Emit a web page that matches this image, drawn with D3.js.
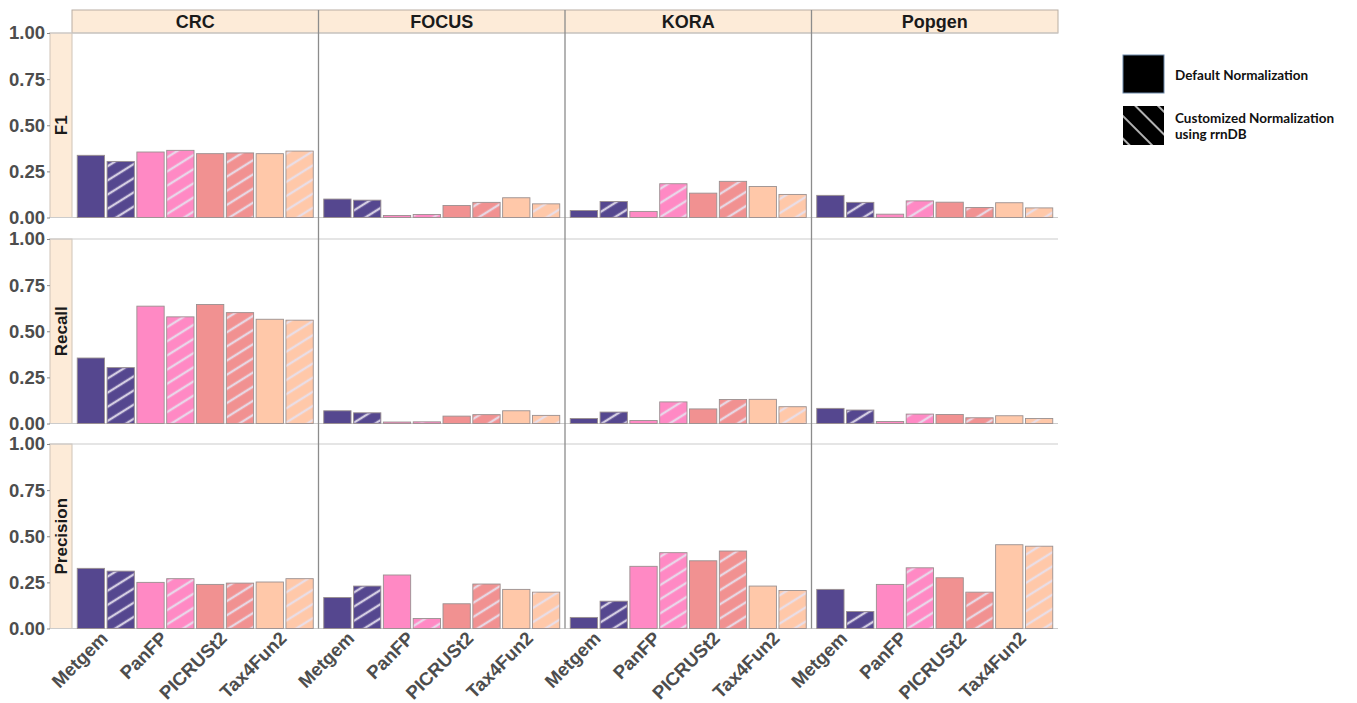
<!DOCTYPE html>
<html>
<head>
<meta charset="utf-8">
<script src="https://cdn.jsdelivr.net/npm/d3@7"></script>
<style>
  html, body { margin: 0; padding: 0; background: #fff; }
  svg { display: block; }
</style>
</head>
<body>
<svg id="chart" width="1357" height="703"></svg>
<script>
// ---------------- DATA ----------------
const datasets = ["CRC", "FOCUS", "KORA", "Popgen"];
const methods = ["Metgem", "PanFP", "PICRUSt2", "Tax4Fun2"];
const metrics = ["F1", "Recall", "Precision"];
const normalizations = ["Default", "Customized"];
const yTicks = [0, 0.25, 0.5, 0.75, 1];

// values[dataset][method]
const f1Default = [
  [0.337, 0.355, 0.346, 0.346],
  [0.100, 0.011, 0.065, 0.107],
  [0.038, 0.033, 0.132, 0.168],
  [0.120, 0.018, 0.083, 0.080]
];
const f1Customized = [
  [0.304, 0.364, 0.350, 0.360],
  [0.094, 0.016, 0.082, 0.074],
  [0.087, 0.183, 0.196, 0.125],
  [0.082, 0.090, 0.054, 0.052]
];
const recallDefault = [
  [0.355, 0.636, 0.645, 0.565],
  [0.069, 0.008, 0.040, 0.069],
  [0.027, 0.016, 0.079, 0.131],
  [0.082, 0.011, 0.049, 0.042]
];
const recallCustomized = [
  [0.303, 0.578, 0.601, 0.560],
  [0.058, 0.009, 0.048, 0.044],
  [0.062, 0.117, 0.130, 0.091],
  [0.073, 0.051, 0.031, 0.027]
];
const precisionDefault = [
  [0.326, 0.250, 0.239, 0.252],
  [0.168, 0.290, 0.134, 0.212],
  [0.060, 0.337, 0.367, 0.230],
  [0.212, 0.239, 0.275, 0.454]
];
const precisionCustomized = [
  [0.311, 0.270, 0.246, 0.270],
  [0.230, 0.054, 0.241, 0.197],
  [0.148, 0.411, 0.420, 0.206],
  [0.092, 0.329, 0.197, 0.446]
];
const legendLabels = ["Default Normalization", ["Customized Normalization", "using rrnDB"]];

const metricData = {
  F1: [f1Default, f1Customized],
  Recall: [recallDefault, recallCustomized],
  Precision: [precisionDefault, precisionCustomized]
};

// ---------------- STYLE / LAYOUT ----------------
const methodColors = d3.scaleOrdinal(methods, ["#55478f", "#ff89c4", "#f19191", "#ffc8a9"]);
const stripFill = "#fdebd8";
const font = "'Liberation Sans', Arial, sans-serif";

const plotLeft = 72, plotRight = 1058;
const stripTop = 10, stripBottom = 33;
const panelTops = [33, 239, 444];
const panelH = 184.5;
const leftStripX0 = 50;

const svg = d3.select("#chart");
const defs = svg.append("defs");

// hatch pattern for bars
const hatch = defs.append("pattern")
  .attr("id", "hatch")
  .attr("patternUnits", "userSpaceOnUse")
  .attr("width", 12).attr("height", 12)
  .attr("patternTransform", "rotate(-32)");
hatch.append("line")
  .attr("x1", 0).attr("y1", 6).attr("x2", 12).attr("y2", 6)
  .attr("stroke", "#e6e0ee").attr("stroke-opacity", 0.88).attr("stroke-width", 2.4);

// legend hatch
const lhatch = defs.append("pattern")
  .attr("id", "lhatch")
  .attr("patternUnits", "userSpaceOnUse")
  .attr("width", 16).attr("height", 16)
  .attr("patternTransform", "rotate(45)");
lhatch.append("line")
  .attr("x1", 0).attr("y1", 8).attr("x2", 16).attr("y2", 8)
  .attr("stroke", "#fff").attr("stroke-width", 1.4);

const xOuter = d3.scaleBand(datasets, [plotLeft, plotRight]).padding(0);
const xMethod = d3.scaleBand(methods, [0, xOuter.bandwidth()]).paddingInner(0).paddingOuter(0.067);
const xNorm = d3.scaleBand(normalizations, [0, xMethod.bandwidth()]).paddingInner(0.085).paddingOuter(0.042);

// top strips
const topStrip = svg.append("g");
topStrip.append("rect")
  .attr("x", plotLeft).attr("y", stripTop)
  .attr("width", plotRight - plotLeft).attr("height", stripBottom - stripTop)
  .attr("fill", stripFill).attr("stroke", "#b9aea3").attr("stroke-width", 1);
topStrip.selectAll("text").data(datasets).join("text")
  .attr("x", d => xOuter(d) + xOuter.bandwidth() / 2)
  .attr("y", (stripTop + stripBottom) / 2 + 6)
  .attr("text-anchor", "middle")
  .attr("font-family", font).attr("font-weight", "bold").attr("font-size", 18)
  .attr("fill", "#1a1a1a")
  .text(d => d);

metrics.forEach((metric, r) => {
  const top = panelTops[r];
  const bottom = top + panelH;
  const y = d3.scaleLinear([0, 1], [bottom, top]);
  const g = svg.append("g");

  // left strip
  g.append("rect")
    .attr("x", leftStripX0).attr("y", top)
    .attr("width", plotLeft - leftStripX0).attr("height", panelH)
    .attr("fill", stripFill).attr("stroke", "#cfc4b8").attr("stroke-width", 1);
  g.append("text")
    .attr("transform", `translate(${(leftStripX0 + plotLeft) / 2 + 6},${(top + bottom) / 2}) rotate(-90)`)
    .attr("text-anchor", "middle")
    .attr("font-family", font).attr("font-weight", "bold").attr("font-size", 17)
    .attr("fill", "#1a1a1a")
    .text(metric);

  // panel top and bottom lines
  g.append("line").attr("x1", 49).attr("x2", plotRight).attr("y1", top).attr("y2", top)
    .attr("stroke", "#cccccc").attr("stroke-width", 1.2);
  g.append("line").attr("x1", 49).attr("x2", plotRight).attr("y1", bottom).attr("y2", bottom)
    .attr("stroke", "#cccccc").attr("stroke-width", 1.2);

  // y axis
  const yAxis = d3.axisLeft(y).tickValues(yTicks).tickFormat(d3.format(".2f")).tickSize(3).tickPadding(2);
  const ag = g.append("g").attr("transform", `translate(${leftStripX0},0)`).call(yAxis);
  ag.select(".domain").remove();
  ag.selectAll(".tick line").attr("stroke", "#888");
  ag.selectAll(".tick text")
    .attr("font-family", font).attr("font-weight", "bold").attr("font-size", 18.5)
    .attr("fill", "#4d4d4d");

  // bars
  const [defVals, cusVals] = metricData[metric];
  datasets.forEach((ds, di) => {
    methods.forEach((m, mi) => {
      normalizations.forEach((n, ni) => {
        const v = (ni === 0 ? defVals : cusVals)[di][mi];
        const bx = xOuter(ds) + xMethod(m) + xNorm(n);
        const bw = xNorm.bandwidth();
        g.append("rect")
          .attr("x", bx).attr("y", y(v))
          .attr("width", bw).attr("height", y(0) - y(v))
          .attr("fill", methodColors(m))
          .attr("stroke", "#9a9090").attr("stroke-width", 0.9);
        if (ni === 1) {
          g.append("rect")
            .attr("x", bx + 0.6).attr("y", y(v) + 0.6)
            .attr("width", Math.max(0, bw - 1.2)).attr("height", Math.max(0, y(0) - y(v) - 1.2))
            .attr("fill", "url(#hatch)");
        }
      });
    });
  });

  // x labels on bottom row
  if (r === metrics.length - 1) {
    datasets.forEach(ds => {
      methods.forEach(m => {
        const cx = xOuter(ds) + xMethod(m) + xMethod.bandwidth() / 2;
        g.append("text")
          .attr("transform", `translate(${cx + 3},${bottom + 11}) rotate(-45)`)
          .attr("text-anchor", "end")
          .attr("font-family", font).attr("font-weight", "bold").attr("font-size", 18.5)
          .attr("fill", "#4d4d4d")
          .text(m);
      });
    });
  }
});

// vertical column dividers
svg.append("g").selectAll("line").data(datasets.slice(1)).join("line")
  .attr("x1", d => xOuter(d)).attr("x2", d => xOuter(d))
  .attr("y1", stripTop).attr("y2", panelTops[2] + panelH)
  .attr("stroke", "#8c8c8c").attr("stroke-width", 1.3);

// legend
const lg = svg.append("g");
const legendFont = "Lato, 'Open Sans', sans-serif";
lg.append("rect").attr("x", 1123).attr("y", 55).attr("width", 41).attr("height", 38)
  .attr("fill", "#000").attr("stroke", "#6b87a8").attr("stroke-width", 1);
lg.append("rect").attr("x", 1123).attr("y", 106).attr("width", 41).attr("height", 39)
  .attr("fill", "#000");
lg.append("rect").attr("x", 1123).attr("y", 106).attr("width", 41).attr("height", 39)
  .attr("fill", "url(#lhatch)");
lg.append("text").attr("x", 1175).attr("y", 80)
  .attr("font-family", legendFont).attr("font-weight", "bold").attr("font-size", 13.5)
  .attr("fill", "#111").text(legendLabels[0]);
const t2 = lg.append("text").attr("x", 1175).attr("y", 123)
  .attr("font-family", legendFont).attr("font-weight", "bold").attr("font-size", 13.5)
  .attr("fill", "#111");
t2.selectAll("tspan").data(legendLabels[1]).join("tspan")
  .attr("x", 1175).attr("dy", (d, i) => i === 0 ? 0 : 16).text(d => d);
</script>
</body>
</html>
